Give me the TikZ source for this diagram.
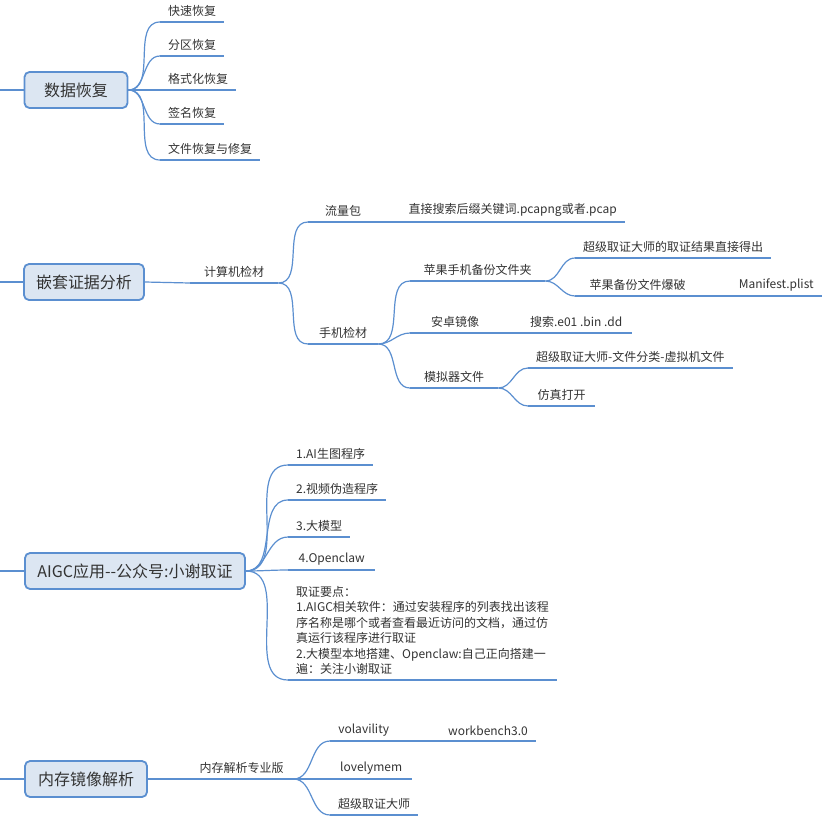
\documentclass[tikz,border=0pt]{standalone}
\usepackage{fontspec}
\setmainfont{Noto Sans CJK SC}
\begin{document}
\begin{tikzpicture}[x=1pt,y=-1pt,
  ln/.style={draw=lc,line width=1.2pt},
  ul/.style={draw=lc,line width=2.4pt},
  leaf/.style={anchor=south west,inner xsep=8pt,inner ysep=5pt,font=\fontsize{12}{14}\selectfont,text=tc,align=left},
  box/.style={draw=lc,line width=1.8pt,fill=bf,rounded corners=5pt,minimum height=36pt,font=\fontsize{16}{18}\selectfont,text=tc,inner xsep=12pt}]
\definecolor{lc}{HTML}{5B8FD0}
\definecolor{bf}{HTML}{DCE6F2}
\definecolor{tc}{HTML}{333333}
\fill[white] (0,0) rectangle (831,831);
\useasboundingbox (0,0) rectangle (831,831);
\newcommand\leaf[5]{\node[leaf,minimum width=#4pt] (#1) at (#2,#3) {#5};\draw[ul] (#1.south west)--(#1.south east);}
\newcommand\cn[2]{\draw[ln] (#1.south east) to[out=0,in=180] (#2.south west);}
% section 1
\node[box,minimum width=103pt] (b1) at (76,90) {数据恢复};
\coordinate (l1) at (0,90); \draw[ln] (l1)--(b1);
\leaf{a1}{160}{22}{62}{快速恢复}
\leaf{a2}{160}{56}{62}{分区恢复}
\leaf{a3}{160}{90}{74}{格式化恢复}
\leaf{a4}{160}{124}{62}{签名恢复}
\leaf{a5}{160}{160}{98}{文件恢复与修复}
\foreach \n in {a1,a2,a3,a4,a5}{\draw[ln] (b1.east) to[out=0,in=180] (\n.south west);}
% section 2
\node[box,minimum width=118pt] (b2) at (84,282) {嵌套证据分析};
\coordinate (l2) at (0,282); \draw[ln] (l2)--(b2);
\leaf{c1}{190}{283}{88}{计算机检材}
\draw[ln] (b2.east)--(c1.south west);
\leaf{c2}{308}{222}{70}{流量包}
\leaf{c3}{308}{344}{70}{手机检材}
\cn{c1}{c2}\cn{c1}{c3}
\leaf{c4}{400}{222}{225}{直接搜索后缀关键词.pcapng或者.pcap}
\draw[ln] (c2.south east)--(c4.south west);
\leaf{d1}{410}{281}{135}{苹果手机备份文件夹}
\leaf{d2}{410}{333}{90}{安卓镜像}
\leaf{d3}{410}{388}{88}{模拟器文件}
\cn{c3}{d1}\cn{c3}{d2}\cn{c3}{d3}
\leaf{e1}{575}{258}{195}{超级取证大师的取证结果直接得出}
\leaf{e2}{575}{296}{125}{苹果备份文件爆破}
\cn{d1}{e1}\cn{d1}{e2}
\leaf{e3}{730}{296}{92}{Manifest.plist}
\draw[ln] (e2.south east)--(e3.south west);
\leaf{e4}{520}{333}{112}{搜索.e01 .bin .dd}
\draw[ln] (d2.south east)--(e4.south west);
\leaf{e5}{528}{368}{204}{超级取证大师-文件分类-虚拟机文件}
\leaf{e6}{528}{406}{67}{仿真打开}
\cn{d3}{e5}\cn{d3}{e6}
% section 3
\node[box,minimum width=220pt] (b3) at (135,571) {AIGC应用-{}-公众号:小谢取证};
\coordinate (l3) at (0,571); \draw[ln] (l3)--(b3);
\leaf{f1}{288}{465}{84}{1.AI生图程序}
\leaf{f2}{288}{500}{98}{2.视频伪造程序}
\leaf{f3}{288}{537}{62}{3.大模型}
\leaf{f4}{288}{570}{87}{4.Openclaw}
\node[leaf,minimum width=265pt,font=\fontsize{12}{15.5}\selectfont] (f5) at (288,680) {取证要点：\\1.AIGC相关软件：通过安装程序的列表找出该程\\序名称是哪个或者查看最近访问的文档，通过仿\\真运行该程序进行取证\\2.大模型本地搭建、Openclaw:自己正向搭建一\\遍：关注小谢取证};
\draw[ul] (f5.south west)--(f5.south east);
\foreach \n in {f1,f2,f3,f4,f5}{\draw[ln] (b3.east) to[out=0,in=180] (\n.south west);}
% section 4
\node[box,minimum width=122pt] (b4) at (86,779) {内存镜像解析};
\coordinate (l4) at (0,779); \draw[ln] (l4)--(b4);
\leaf{g1}{190}{779}{103}{内存解析专业版}
\draw[ln] (b4.east)--(g1.south west);
\leaf{g2}{330}{741}{67}{volavility}
\leaf{g3}{330}{779}{82}{lovelymem}
\leaf{g4}{330}{815}{87}{超级取证大师}
\cn{g1}{g2}\cn{g1}{g3}\cn{g1}{g4}
\leaf{g5}{440}{741}{92}{workbench3.0}
\draw[ln] (g2.south east)--(g5.south west);
\end{tikzpicture}
\end{document}
